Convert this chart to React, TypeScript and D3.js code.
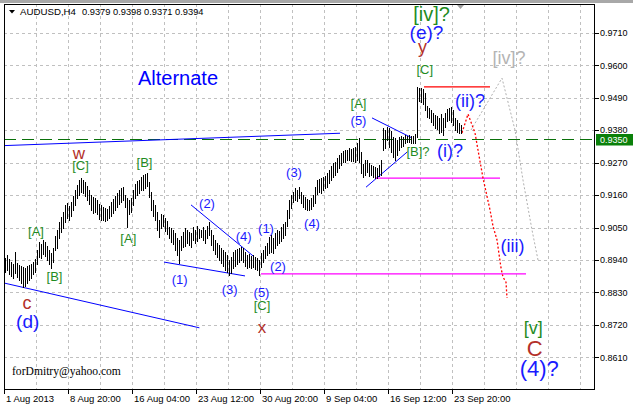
import React from 'react';
import * as d3 from 'd3';

// ---------- data ----------
const symbol = 'AUDUSD,H4';
const lastOHLC = [0.9379, 0.9398, 0.9371, 0.9394];
const currentPrice = 0.935;

const highs = [
  0.8947,0.8957,0.8943,0.8933,0.8926,0.8967,0.8930,0.8923,0.8920,0.8916,0.8913,0.8920,0.8923,0.8926,0.8933,0.8943,
  0.8974,0.9001,0.8994,0.9008,0.9001,0.8987,0.8974,0.8964,0.8981,
  0.9021,0.9042,0.9069,0.9086,0.9103,0.9127,0.9134,0.9123,0.9137,0.9157,0.9178,0.9195,0.9212,0.9218,
  0.9212,0.9205,0.9191,0.9178,0.9161,0.9154,0.9151,0.9144,0.9130,0.9127,0.9120,0.9117,0.9113,
  0.9123,0.9137,0.9147,0.9157,0.9168,0.9178,0.9185,0.9188,0.9161,0.9151,
  0.9144,0.9151,0.9178,0.9198,0.9208,0.9212,0.9222,0.9229,0.9232,0.9235,
  0.9205,0.9171,0.9144,0.9127,0.9103,0.9076,0.9096,0.9093,0.9083,0.9072,0.9052,0.9049,0.9042,0.9032,0.9015,0.9008,
  0.9021,0.9035,0.9049,0.9042,0.9035,0.9032,0.9052,0.9042,0.9055,0.9045,0.9042,0.9052,0.9042,0.9055,0.9069,
  0.9042,0.9025,0.9008,0.8998,0.8991,0.8981,0.8974,0.8967,0.8957,0.8940,0.8950,0.8967,0.8974,0.8977,0.8981,0.8984,0.8981,0.8967,0.8957,0.8960,0.8953,0.8957,0.8950,0.8947,0.8940,
  0.8964,0.8974,0.8987,0.8998,0.9018,0.9025,0.9015,0.9032,0.9042,0.9038,0.9052,0.9062,0.9069,
  0.9110,0.9144,0.9161,0.9171,0.9185,0.9178,0.9188,0.9171,0.9161,0.9154,0.9147,0.9144,0.9151,0.9161,
  0.9188,0.9212,0.9215,0.9218,0.9222,0.9225,0.9235,0.9246,0.9259,0.9269,0.9273,0.9286,0.9297,0.9303,0.9310,0.9314,0.9314,0.9320,0.9317,0.9320,0.9323,0.9337,0.9354,
  0.9307,0.9266,0.9280,0.9280,0.9269,0.9263,0.9259,0.9256,0.9252,0.9263,0.9280,
  0.9388,0.9381,0.9391,0.9388,0.9378,0.9357,0.9354,0.9347,0.9357,0.9361,0.9357,0.9364,0.9361,0.9364,0.9361,0.9361,0.9367,
  0.9527,0.9524,0.9524,0.9520,0.9507,0.9462,0.9456,0.9449,0.9439,0.9432,0.9429,0.9422,0.9435,0.9422,0.9439,0.9452,0.9456,0.9459,0.9449,0.9422,0.9415,0.9405,0.9398,
];
const lows = [
  0.8899,0.8906,0.8892,0.8886,0.8879,0.8896,0.8882,0.8872,0.8862,0.8848,0.8852,0.8862,0.8872,0.8879,0.8892,0.8899,
  0.8926,0.8950,0.8947,0.8960,0.8953,0.8940,0.8926,0.8913,0.8933,
  0.8974,0.8981,0.9015,0.9035,0.9049,0.9069,0.9083,0.9076,0.9089,0.9110,0.9127,0.9151,0.9161,0.9171,
  0.9168,0.9157,0.9144,0.9130,0.9110,0.9100,0.9103,0.9096,0.9079,0.9076,0.9076,0.9072,0.9076,
  0.9083,0.9089,0.9100,0.9110,0.9120,0.9130,0.9137,0.9144,0.9120,0.9052,
  0.9096,0.9103,0.9127,0.9151,0.9161,0.9168,0.9178,0.9178,0.9185,0.9191,
  0.9154,0.9110,0.9089,0.9076,0.9042,0.9018,0.9049,0.9055,0.9038,0.9028,0.9015,0.9001,0.8994,0.8974,0.8957,0.8930,
  0.8974,0.8984,0.8987,0.8998,0.8991,0.8984,0.9008,0.8998,0.9004,0.9015,0.9018,0.9008,0.8998,0.9015,0.9025,
  0.8991,0.8974,0.8960,0.8950,0.8940,0.8930,0.8920,0.8906,0.8899,0.8889,0.8896,0.8913,0.8920,0.8926,0.8933,0.8940,0.8933,0.8920,0.8913,0.8916,0.8913,0.8916,0.8909,0.8906,0.8889,
  0.8916,0.8933,0.8947,0.8957,0.8964,0.8967,0.8964,0.8981,0.8991,0.8998,0.9004,0.9015,0.9025,
  0.9055,0.9083,0.9117,0.9137,0.9144,0.9140,0.9151,0.9134,0.9120,0.9113,0.9110,0.9110,0.9113,0.9123,
  0.9134,0.9164,0.9171,0.9168,0.9178,0.9185,0.9188,0.9201,0.9212,0.9222,0.9229,0.9239,0.9252,0.9263,0.9273,0.9273,0.9280,0.9280,0.9276,0.9276,0.9273,0.9280,0.9273,
  0.9235,0.9222,0.9229,0.9239,0.9225,0.9229,0.9222,0.9218,0.9218,0.9225,0.9229,
  0.9314,0.9320,0.9347,0.9323,0.9307,0.9290,0.9280,0.9297,0.9314,0.9323,0.9327,0.9337,0.9340,0.9340,0.9337,0.9337,0.9337,
  0.9357,0.9480,0.9476,0.9469,0.9449,0.9425,0.9422,0.9408,0.9398,0.9388,0.9384,0.9371,0.9374,0.9364,0.9391,0.9412,0.9415,0.9408,0.9398,0.9381,0.9374,0.9371,0.9371,
];

const priceTicks = [0.971, 0.96, 0.949, 0.938, 0.927, 0.916, 0.905, 0.894, 0.883, 0.872, 0.861];
const dateLabels = ['1 Aug 2013', '8 Aug 20:00', '16 Aug 04:00', '23 Aug 12:00', '30 Aug 20:00', '9 Sep 04:00', '16 Sep 12:00', '23 Sep 20:00'];

// annotation lines: [barIndex, price]
type Pt = [number, number];
const blueLines: Pt[][] = [
  [[-0.5, 0.9328], [167.5, 0.937]],
  [[-0.5, 0.8862], [97.2, 0.871]],
  [[79.5, 0.8933], [120, 0.8886]],
  [[93, 0.9127], [124, 0.8954]],
  [[183.5, 0.9422], [203.5, 0.9354]],
  [[180.5, 0.9187], [201.2, 0.9307]],
];
const magentaLines: Pt[][] = [
  [[128, 0.8893], [260.5, 0.8893]],
  [[185, 0.9218], [247.5, 0.9218]],
];
const redLevel: Pt[] = [[209.5, 0.9527], [242.5, 0.9527]];
const redForecast: Pt[] = [
  [228.5, 0.9371], [231.5, 0.9435], [235, 0.9371], [236.5, 0.9313], [239, 0.9218], [242.5, 0.911],
  [244, 0.9055], [246, 0.9008], [248, 0.8913], [249, 0.8882], [250.5, 0.8865], [251, 0.8811],
];
const grayForecast: Pt[] = [
  [233, 0.9381], [248.5, 0.9557], [255, 0.9381], [259, 0.9211], [263.5, 0.9042], [266.5, 0.894],
];

const GREEN = '#1f8c1f';
const BLUE = '#1a1aff';
const RED = '#b3302a';
const GRAY = '#b4b4b4';

type Lbl = { t: string; i: number; p: number; s: number; c: string; dy?: string };
const waveLabels: Lbl[] = [
  { t: '[A]', i: 15.5, p: 0.9032, s: 13, c: GREEN },
  { t: '[B]', i: 24.75, p: 0.8881, s: 13, c: GREEN },
  { t: 'w', i: 36.9, p: 0.9297, s: 17, c: RED },
  { t: '[C]', i: 37.75, p: 0.9256, s: 13, c: GREEN },
  { t: '[A]', i: 61.65, p: 0.9008, s: 13, c: GREEN },
  { t: '[B]', i: 69.75, p: 0.9266, s: 13, c: GREEN },
  { t: '(1)', i: 87.35, p: 0.8869, s: 13, c: BLUE },
  { t: '(2)', i: 101, p: 0.9128, s: 13, c: BLUE },
  { t: '(3)', i: 112.35, p: 0.8837, s: 13, c: BLUE },
  { t: '(4)', i: 119.35, p: 0.9016, s: 13, c: BLUE },
  { t: '(5)', i: 128.25, p: 0.8826, s: 13, c: BLUE },
  { t: '[C]', i: 128.5, p: 0.8782, s: 13, c: GREEN },
  { t: 'x', i: 128.5, p: 0.8708, s: 17, c: RED },
  { t: '(2)', i: 136.5, p: 0.8915, s: 13, c: BLUE },
  { t: '(1)', i: 130.5, p: 0.9045, s: 13, c: BLUE },
  { t: '(3)', i: 144.5, p: 0.9235, s: 13, c: BLUE },
  { t: '(4)', i: 153.5, p: 0.906, s: 13, c: BLUE },
  { t: '[A]', i: 176.75, p: 0.9466, s: 13, c: GREEN },
  { t: '(5)', i: 176.75, p: 0.9409, s: 13, c: BLUE },
  { t: '[B]?', i: 206.5, p: 0.9306, s: 13, c: GREEN },
  { t: '(i)?', i: 222.5, p: 0.9307, s: 18, c: BLUE },
  { t: '(ii)?', i: 232.5, p: 0.9476, s: 18, c: BLUE },
  { t: '(iii)', i: 253.75, p: 0.8984, s: 18, c: BLUE },
  { t: '[iv]?', i: 252, p: 0.9622, s: 18, c: GRAY },
  { t: '[iv]?', i: 213.25, p: 0.9768, s: 20, c: GREEN },
  { t: '(e)?', i: 210.75, p: 0.9707, s: 19, c: BLUE },
  { t: 'y', i: 208.75, p: 0.9652, s: 18, c: RED, dy: '0.16em' },
  { t: '[C]', i: 209.85, p: 0.9582, s: 13, c: GREEN },
  { t: '[v]', i: 264.15, p: 0.8706, s: 18, c: GREEN },
  { t: 'C', i: 264.85, p: 0.8641, s: 22, c: RED, dy: '0.36em' },
  { t: '(4)?', i: 267.15, p: 0.8567, s: 22, c: BLUE },
  { t: 'c', i: 11, p: 0.8791, s: 18, c: RED },
  { t: '(d)', i: 11.35, p: 0.8726, s: 19, c: BLUE },
];
const titleText = 'Alternate';
const titleAnchor: Pt = [66.5, 0.9534];
const footer = 'forDmitry@yahoo.com';

const FONT = "'Liberation Sans', Arial, sans-serif";

export default function App() {
  const W = 633, H = 407, L = 4, T = 4, R = 594, B = 389;
  const x = d3.scaleLinear().domain([0, 1]).range([5, 7]);
  const y = d3.scaleLinear().domain([0.971, 0.861]).range([33, 357.3]);
  const line = d3.line<Pt>().x((d) => x(d[0])).y((d) => y(d[1]));
  const ry = (p: number) => Math.round(y(p)) + 0.5;
  const gridX = d3.range(1, 19).map((k) => x(16 * k - 0.5));
  const dateX = dateLabels.map((_, j) => x(32 * j - 0.5));
  const last = highs.length - 1;

  return (
    <svg width={W} height={H} style={{ position: 'absolute', left: 0, top: 0, background: '#fff' }} fontFamily={FONT}>
      <defs>
        <clipPath id="plot"><rect x={L} y={T} width={R - L} height={B - T} /></clipPath>
      </defs>
      <rect x={0} y={0} width={W} height={H} fill="#fff" />
      <rect x={0} y={0} width={W} height={3} fill="#a8a8a8" />
      <g clipPath="url(#plot)">
        {/* grid */}
        {priceTicks.map((p) => (
          <line key={'h' + p} x1={L} x2={R} y1={ry(p)} y2={ry(p)} stroke="#c0c0c0" strokeDasharray="3,3" />
        ))}
        {gridX.map((gx) => (
          <line key={'v' + gx} x1={Math.round(gx) + 0.5} x2={Math.round(gx) + 0.5} y1={T} y2={B} stroke="#c0c0c0" strokeDasharray="3,3" />
        ))}
        {/* current price dashed */}
        <line x1={L} x2={R} y1={ry(currentPrice)} y2={ry(currentPrice)} stroke="#0a700a" strokeDasharray="12,6" />
        {/* trend lines */}
        {blueLines.map((l, k) => (
          <path key={'b' + k} d={line(l) || ''} stroke="#0000ff" fill="none" strokeWidth={1} />
        ))}
        {magentaLines.map((l, k) => (
          <path key={'m' + k} d={line(l) || ''} stroke="#ff00ff" fill="none" strokeWidth={1.3} />
        ))}
        <path d={line(redLevel) || ''} stroke="#ff0000" fill="none" strokeWidth={1.2} />
        <path d={line(grayForecast) || ''} stroke="#b0b0b0" fill="none" strokeDasharray="2,2" strokeWidth={1} />
        <path d={line(redForecast) || ''} stroke="#ff0000" fill="none" strokeDasharray="2,2" strokeWidth={1.3} />
        {/* bars */}
        <g shapeRendering="crispEdges">
          {highs.map((h, i) => (
            <line key={'bar' + i} x1={x(i) + 0.5} x2={x(i) + 0.5} y1={Math.round(y(h))} y2={Math.round(y(lows[i])) + 1} stroke="#000" strokeWidth={1} />
          ))}
        </g>
        {/* labels */}
        <text x={x(titleAnchor[0])} y={y(titleAnchor[1])} fontSize={20} fill="#0000ff">{titleText}</text>
        {waveLabels.map((l, k) => (
          <text key={'l' + k} x={x(l.i)} y={y(l.p)} dy={l.dy || '0.27em'} fontSize={l.s} fill={l.c} textAnchor="middle">{l.t}</text>
        ))}
        <text x={12} y={375} fontSize={11.6} fontFamily="'Liberation Serif', 'Times New Roman', serif" fill="#000">{footer}</text>
        {/* header */}
        <polygon points="9,10 15,10 12,13.5" fill="#000" />
        <text x={20} y={15} fontSize={9.7} fill="#000">{symbol}</text>
        <text x={82} y={15} fontSize={9.3} fill="#000">{lastOHLC.map((v) => v.toFixed(4)).join(' ')}</text>
        <polygon points={`${x(last) - 4},5 ${x(last) + 3},5 ${x(last) - 0.5},9`} fill="#a0a0a0" />
      </g>
      {/* frame */}
      <rect x={L + 0.5} y={T + 0.5} width={R - L} height={B - T} fill="none" stroke="#000" shapeRendering="crispEdges" />
      {/* price axis */}
      {priceTicks.map((p) => (
        <g key={'pt' + p}>
          <line x1={R} x2={R + 5} y1={ry(p)} y2={ry(p)} stroke="#000" />
          <text x={600} y={y(p) + 3.2} fontSize={9} fill="#000">{p.toFixed(4)}</text>
        </g>
      ))}
      <rect x={596} y={Math.round(y(currentPrice)) - 5} width={37} height={11.5} fill="#0a800a" />
      <text x={600} y={y(currentPrice) + 3.5} fontSize={9} fill="#fff">{currentPrice.toFixed(4)}</text>
      {/* time axis */}
      {dateLabels.map((d, j) => (
        <g key={'d' + j}>
          <line x1={Math.round(dateX[j]) + 0.5} x2={Math.round(dateX[j]) + 0.5} y1={B} y2={B + 5} stroke="#000" />
          <text x={dateX[j] + 2} y={401.5} fontSize={9.5} fill="#000">{d}</text>
        </g>
      ))}
    </svg>
  );
}
